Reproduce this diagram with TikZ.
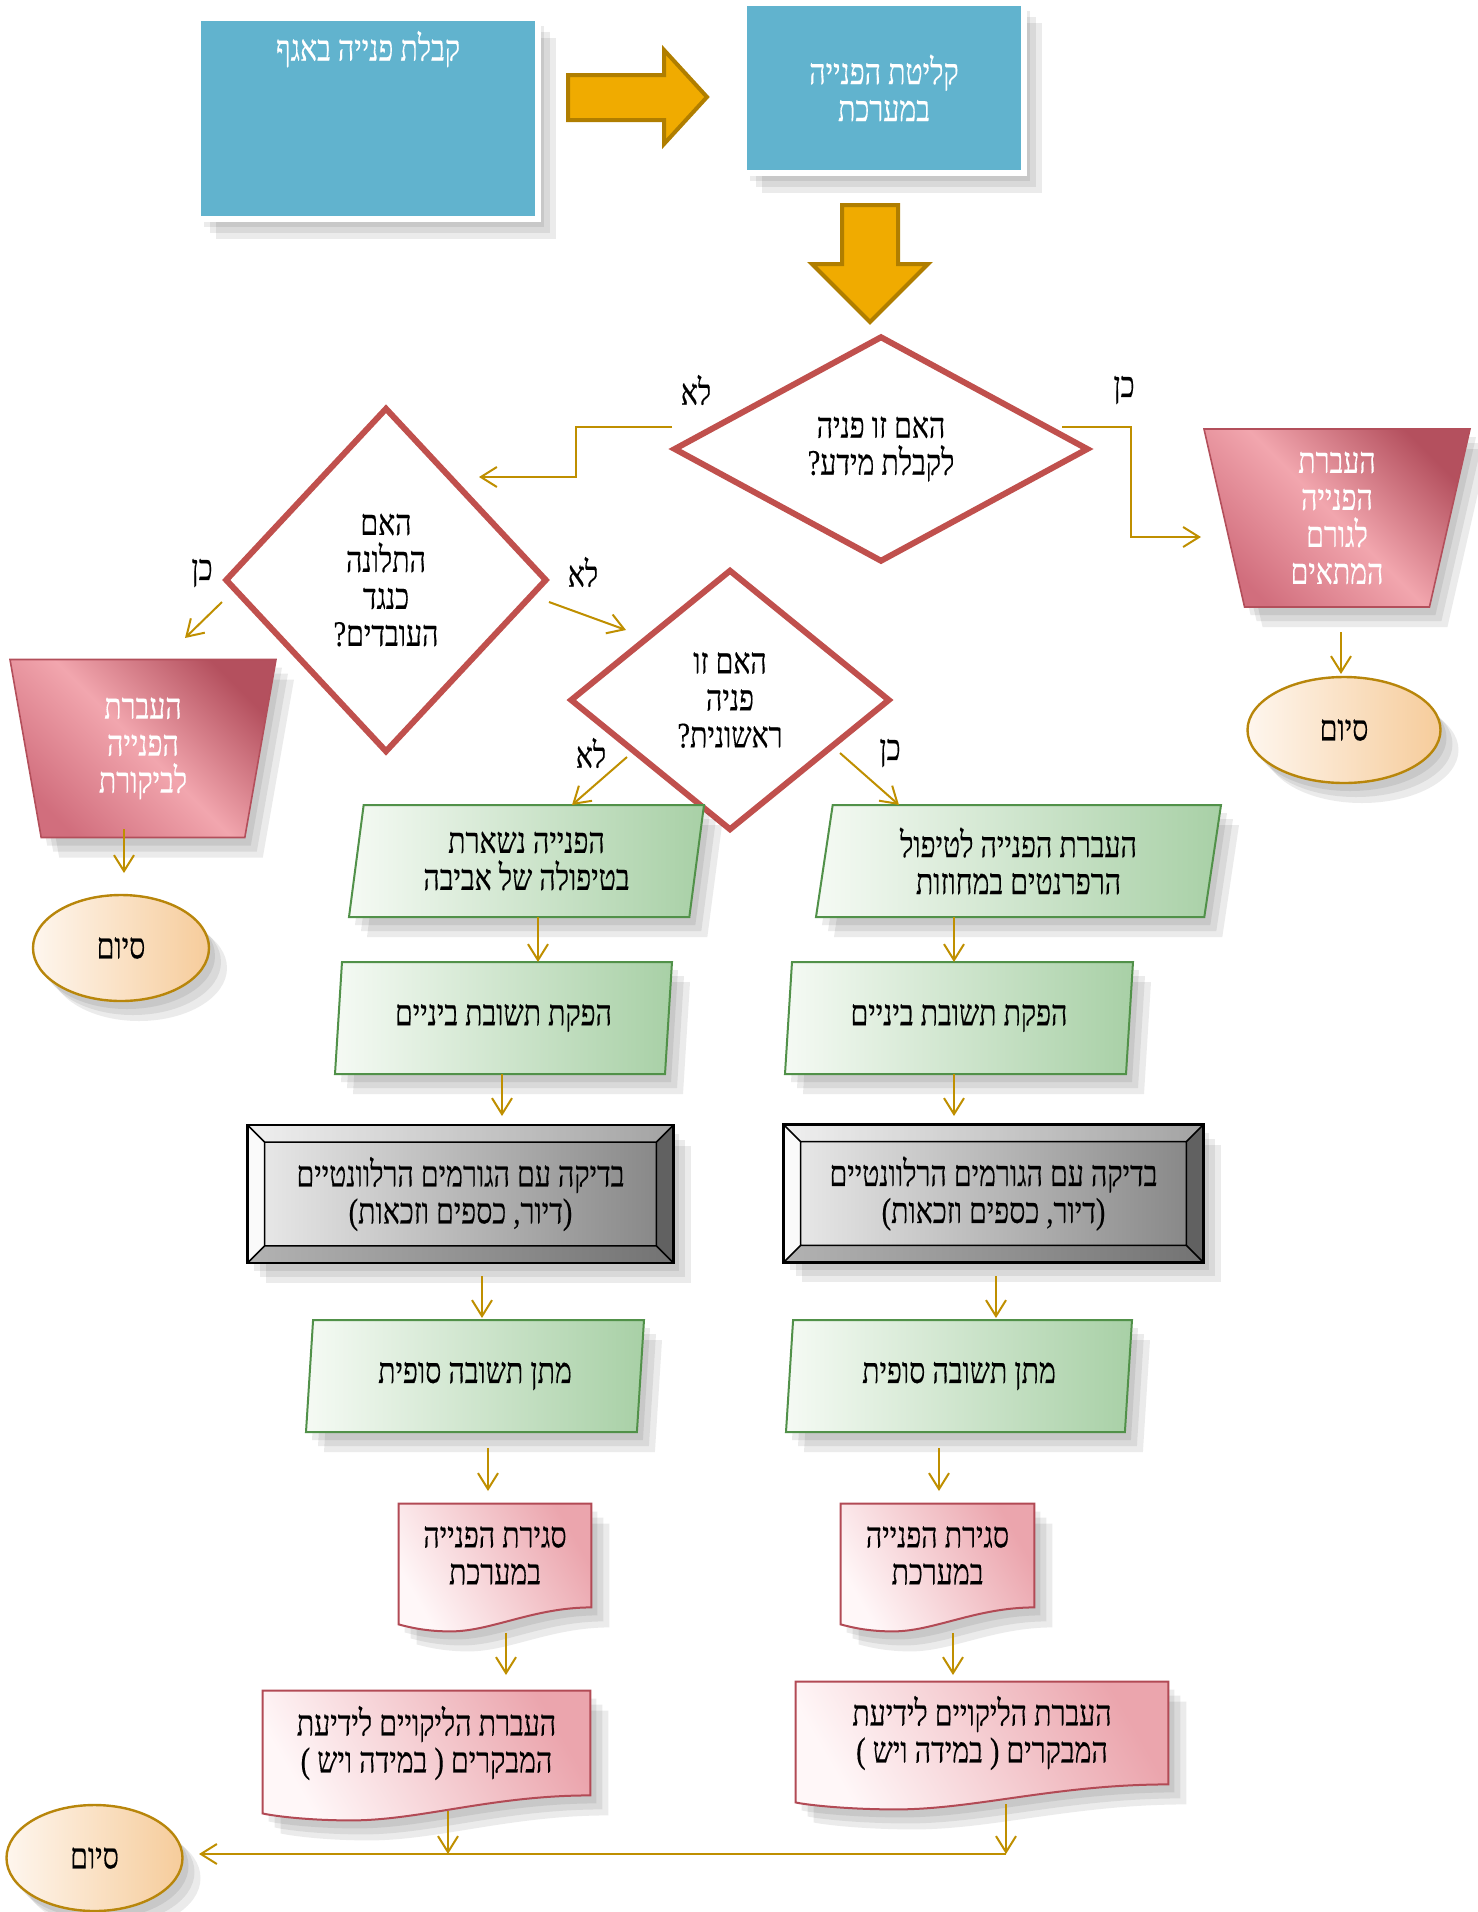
\documentclass[tikz,border=0pt]{standalone}
\usepackage{fontspec}
\newfontfamily\hebfont[Script=Hebrew,FakeStretch=0.79,FakeBold=0.3]{Liberation Serif}
\TeXXeTstate=1
\usetikzlibrary{shapes.geometric,arrows.meta,calc,backgrounds}

\definecolor{boxblue}{HTML}{61B3CE}
\definecolor{blockfill}{HTML}{F0AB00}
\definecolor{blockedge}{HTML}{B07E00}
\definecolor{quesred}{HTML}{C0504D}
\definecolor{linegold}{HTML}{BF8F00}
\definecolor{trapdark}{HTML}{B4505E}
\definecolor{traplight}{HTML}{F2A6AE}
\definecolor{trapmid}{HTML}{D16E7D}
\definecolor{trapedge}{HTML}{B34F5B}
\definecolor{paralight}{HTML}{F5FAF4}
\definecolor{paragreen}{HTML}{A8D0A6}
\definecolor{paraedge}{HTML}{519149}
\definecolor{doclight}{HTML}{FFF7F8}
\definecolor{docpink}{HTML}{EBA5AD}
\definecolor{docedge}{HTML}{B24A55}
\definecolor{elllight}{HTML}{FEF6EE}
\definecolor{ellpeach}{HTML}{F6CC9B}
\definecolor{elledge}{HTML}{B8860B}

\newcommand\heb[1]{\beginR #1\endR}
\newcommand\docshape[2]{%
  \path[docfill] (#1.north west) -- (#1.north east) -- (#1.south east)
    .. controls ($(#1.south east)!.3!(#1.south west)$) and ($(#1.south east)!.52!(#1.south west)+(0,#2)$)
    .. ($(#1.south east)!.73!(#1.south west)+(0,#2)$)
    .. controls ($(#1.south east)!.87!(#1.south west)+(0,#2)$) and ($(#1.south west)+(8,#2-5)$)
    .. ($(#1.south west)+(0,#2-7)$) -- cycle;}
\newcommand\bevelfaces[1]{%
  \coordinate (#1i1) at ($(#1.north west)+(17,17)$);
  \coordinate (#1i2) at ($(#1.north east)+(-17,17)$);
  \coordinate (#1i3) at ($(#1.south east)+(-17,-17)$);
  \coordinate (#1i4) at ($(#1.south west)+(17,-17)$);
  \fill[white,opacity=.25] (#1.north west) -- (#1i1) -- (#1i2) -- (#1.north east) -- cycle;
  \fill[white,opacity=.8] (#1.north west) -- (#1i1) -- (#1i4) -- (#1.south west) -- cycle;
  \fill[black!62] (#1.north east) -- (#1i2) -- (#1i3) -- (#1.south east) -- cycle;
  \shade[left color=black!30,right color=black!55] (#1.south west) -- (#1i4) -- (#1i3) -- (#1.south east) -- cycle;
  \draw[line width=.8pt] (#1.north west) -- (#1i1) -- (#1i2) -- (#1.north east) (#1i2) -- (#1i3) -- (#1.south east)
    (#1i3) -- (#1i4) -- (#1.south west) (#1i4) -- (#1i1);
  \draw[line width=1.3pt] (#1.north west) rectangle (#1.south east);}

\begin{document}
\begin{tikzpicture}[x=0.5pt,y=-0.5pt,
   every node/.style={font=\hebfont\fontsize{18}{18.5}\selectfont,align=center},
   shdw/.style={preaction={draw=none,fill=black,opacity=.08,transform canvas={shift={(3pt,-4pt)}}},
      preaction={draw=none,fill=black,opacity=.08,transform canvas={shift={(6pt,-7pt)}}},
      preaction={draw=none,fill=black,opacity=.08,transform canvas={shift={(9pt,-10pt)}}}},
   blbox/.style={rectangle,fill=boxblue,draw=white,line width=3pt,text=white,shdw},
   ques/.style={diamond,draw=quesred,line width=3pt,fill=white,inner sep=0pt},
   funnel/.style={trapezium,trapezium angle=73,shape border rotate=180,trapezium stretches body,
      minimum width=133pt,minimum height=89pt,inner sep=0pt,draw=trapedge,line width=.8pt,text=white,
      top color=trapdark,bottom color=trapmid,middle color=traplight,shading angle=-45,shdw},
   para/.style={trapezium,trapezium left angle=76,trapezium right angle=104,trapezium stretches body,
      minimum height=56pt,inner sep=0pt,draw=paraedge,line width=1pt,
      left color=paralight,right color=paragreen,shdw},
   bevelbox/.style={rectangle,inner sep=0pt,minimum height=68.5pt,left color=black!8,right color=black!48,shdw},
   docbox/.style={rectangle,inner sep=0pt},
   docfill/.style={draw=docedge,line width=1pt,left color=doclight,right color=docpink,shading angle=120,shdw},
   endell/.style={ellipse,draw=elledge,line width=1.2pt,left color=elllight,right color=ellpeach,
      minimum width=88pt,minimum height=53pt,inner sep=0pt,shdw},
   conn/.style={draw=linegold,line width=1pt,-{Straight Barb[length=8pt,width=10pt]}},
   block/.style={fill=blockfill,draw=blockedge,line width=2pt}]
\useasboundingbox (0,0) rectangle (1478,1912);

\node[blbox,minimum width=170pt,minimum height=100.5pt,text height=12pt,text depth=70pt] (b1) at (368,118.5) {\heb{קבלת פנייה באגף}};
\node[blbox,minimum width=140pt,minimum height=85pt] (b2) at (884,88) {\heb{קליטת הפנייה}\\\heb{במערכת}};
\node[ques,minimum width=207.5pt,minimum height=113pt] (d1) at (881,449) {\heb{האם זו פניה}\\\heb{לקבלת מידע?}};
\node[funnel] (tr) at (1337,518) {\heb{העברת}\\\heb{הפנייה}\\\heb{לגורם}\\\heb{המתאים}};
\node[endell,minimum width=96.5pt] (e1) at (1344,730) {\heb{סיום}};
\node[ques,minimum width=161pt,minimum height=172.5pt] (d2) at (386,580) {\heb{האם}\\\heb{התלונה}\\\heb{כנגד}\\\heb{העובדים?}};
\node[funnel] (tl) at (143,748.5) {\heb{העברת}\\\heb{הפנייה}\\\heb{לביקורת}};
\node[endell] (e2) at (121,948) {\heb{סיום}};
\node[ques,minimum width=160pt,minimum height=130.5pt] (d3) at (730,700) {\heb{האם זו}\\\heb{פניה}\\\heb{ראשונית?}};
\node[para,minimum width=177.5pt] (l1) at (526.5,861) {\heb{הפנייה נשארת}\\\heb{בטיפולה של אביבה}};
\node[para,minimum width=202.5pt] (r1) at (1018.5,861) {\heb{העברת הפנייה לטיפול}\\\heb{הרפרנטים במחוזות}};
\node[para,minimum width=168.5pt] (l2) at (503.5,1018) {\heb{הפקת תשובת ביניים}};
\node[para,minimum width=174pt] (r2) at (959,1018) {\heb{הפקת תשובת ביניים}};
\node[bevelbox,minimum width=212.5pt] (l3) at (460.5,1194) {\heb{בדיקה עם הגורמים הרלוונטיים}\\\heb{(דיור, כספים וזכאות)}};
\node[bevelbox,minimum width=209.5pt] (r3) at (993.5,1193.5) {\heb{בדיקה עם הגורמים הרלוונטיים}\\\heb{(דיור, כספים וזכאות)}};
\node[para,minimum width=169pt] (l4) at (475,1376) {\heb{מתן תשובה סופית}};
\node[para,minimum width=173pt] (r4) at (959,1376) {\heb{מתן תשובה סופית}};
\node[docbox,minimum width=96pt,minimum height=51.5pt] (l5) at (495,1555.5) {\heb{סגירת הפנייה}\\\heb{במערכת}};
\node[docbox,minimum width=96.5pt,minimum height=51.5pt] (r5) at (937.5,1555.5) {\heb{סגירת הפנייה}\\\heb{במערכת}};
\node[docbox,minimum width=163.5pt,minimum height=52pt] (l6) at (426.5,1743) {\heb{העברת הליקויים לידיעת}\\\heb{המבקרים ( במידה ויש )}};
\node[docbox,minimum width=186pt,minimum height=51pt] (r6) at (982,1733) {\heb{העברת הליקויים לידיעת}\\\heb{המבקרים ( במידה ויש )}};
\node[endell] (e3) at (94.5,1858) {\heb{סיום}};

\node (d1no) at (696,390) {\heb{לא}};
\node (d1yes) at (1124,390) {\heb{כן}};
\node (d2yes) at (202,573) {\heb{כן}};
\node (d2no) at (583,572) {\heb{לא}};
\node (d3no) at (591,753) {\heb{לא}};
\node (d3yes) at (890,753) {\heb{כן}};

\begin{scope}[on background layer]
\docshape{l5}{24}
\docshape{r5}{24}
\docshape{l6}{25}
\docshape{r6}{25}
\end{scope}
\bevelfaces{l3}
\bevelfaces{r3}

\draw[block] ($(b1.east)+(27,-43.5)$) -- ++(96,0) -- ++(0,-25) -- ++(43,47) -- ++(-43,47) -- ++(0,-24) -- ++(-96,0) -- cycle;
\draw[block] ($(b2.south)+(-42,29)$) -- ++(56,0) -- ++(0,59) -- ++(30,0) -- ++(-58,58) -- ++(-58,-58) -- ++(30,0) -- cycle;

\draw[conn] ($(d1.center)+(-209,-22)$) -- ++(-96,0) |- ($(d2.center)+(93,-103)$);
\draw[conn] ($(d1.center)+(181,-22)$) -- ++(69,0) |- ($(tr.center)+(-136,19)$);
\draw[conn] ($(tr.center)+(4,114)$) -- ($(e1.center)+(-3,-56)$);
\draw[conn] ($(d2.center)+(-164,22)$) -- ($(tl.center)+(42,-110.5)$);
\draw[conn] ($(d2.center)+(163,22)$) -- ($(d3.center)+(-104,-70)$);
\draw[conn] ($(tl.center)+(-19,80.5)$) -- ($(e2.center)+(3,-75)$);
\draw[conn] ($(d3.center)+(-103,57)$) -- ($(l1.center)+(45.5,-56)$);
\draw[conn] ($(d3.center)+(110,53)$) -- ($(r1.center)+(-119.5,-56)$);
\draw[conn] ($(l1.center)+(11.5,56)$) -- ($(l2.center)+(34.5,-56)$);
\draw[conn] ($(r1.center)+(-64.5,56)$) -- ($(r2.center)+(-5,-56)$);
\draw[conn] ($(l2.center)+(-1.5,56)$) -- ($(l3.center)+(41.5,-78)$);
\draw[conn] ($(r2.center)+(-5,56)$) -- ($(r3.center)+(-39.5,-77.5)$);
\draw[conn] ($(l3.center)+(21.5,82)$) -- ($(l4.center)+(7,-58)$);
\draw[conn] ($(r3.center)+(2.5,82.5)$) -- ($(r4.center)+(37,-58)$);
\draw[conn] ($(l4.center)+(13,72)$) -- ($(l5.center)+(-7,-64.5)$);
\draw[conn] ($(r4.center)+(-20,72)$) -- ($(r5.center)+(1.5,-64.5)$);
\draw[conn] ($(l5.center)+(11,77.5)$) -- ($(l6.center)+(79.5,-68)$);
\draw[conn] ($(r5.center)+(15.5,77.5)$) -- ($(r6.center)+(-29,-58)$);
\coordinate (jn) at ($(l6.center)+(21.5,111)$);
\coordinate (rc) at ($(r6.center)+(24,121)$);
\draw[conn] ($(l6.center)+(21.5,68)$) -- (jn);
\draw[conn] ($(r6.center)+(24,71)$) -- (rc);
\draw[conn] (rc) -- ($(e3.center)+(104.5,-4)$);
\end{tikzpicture}
\end{document}
